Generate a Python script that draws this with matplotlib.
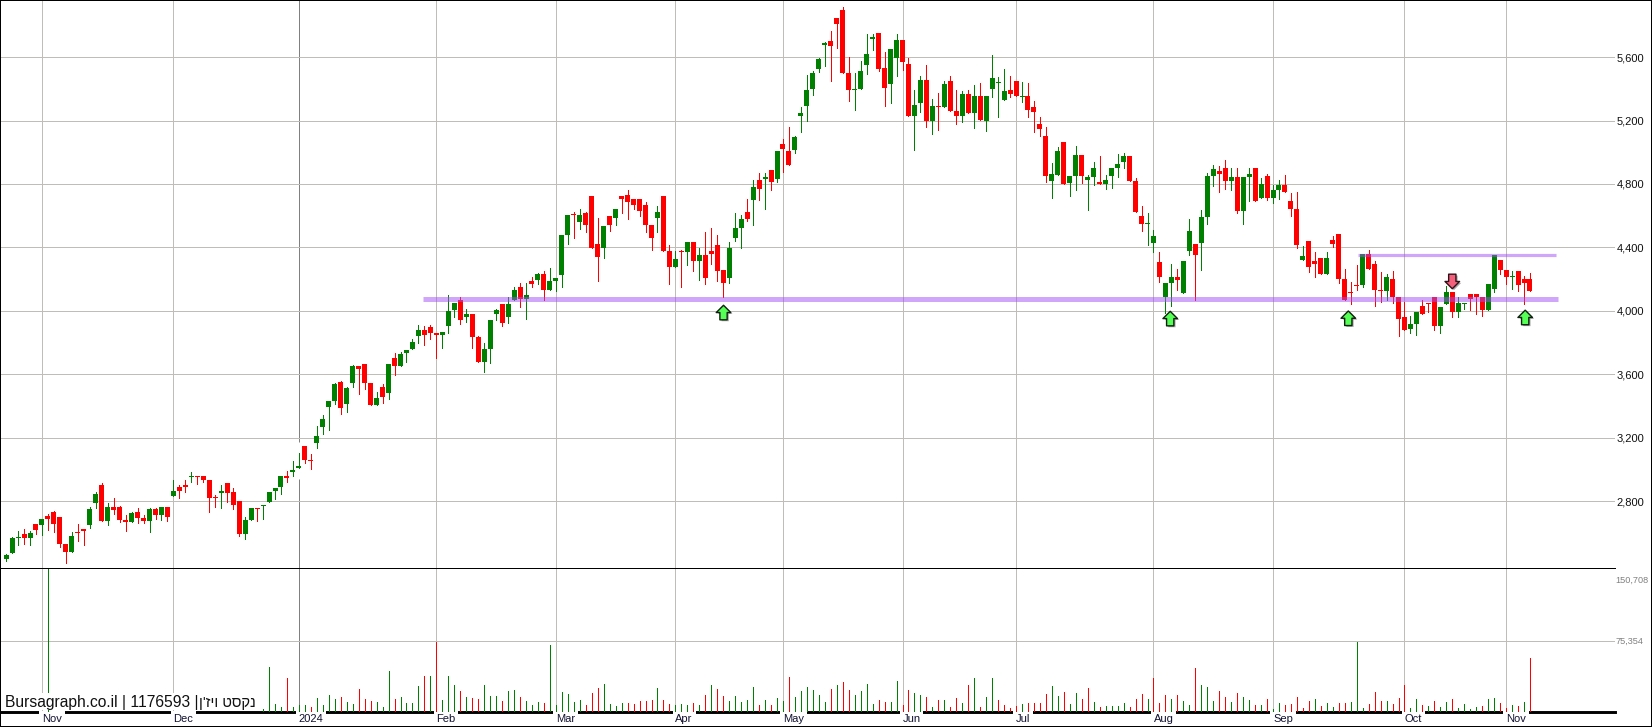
import matplotlib
matplotlib.use("Agg")
import matplotlib.pyplot as plt
import matplotlib.patheffects as pe
from matplotlib.path import Path
from matplotlib.patches import Rectangle

plt.rcParams['font.family'] = ['Liberation Sans', 'DejaVu Sans']

opens = [
2432,2470,2566,2595,2570,2658,2651,2708,2733,2701,
2532,2476,2607,2626,2651,2789,2902,2676,2764,2764,
2683,2670,2733,2695,2676,2752,2714,2764,2833,2889,
2902,2952,2958,2958,2934,2827,2852,2915,2858,2802,
2595,2683,2758,2770,2795,2864,2889,2958,2984,3009,
3147,3059,3165,3266,3395,3433,3552,3414,3546,3653,
3666,3546,3408,3521,3483,3704,3653,3731,3756,3838,
3882,3895,3857,3850,3901,4008,4065,3958,3977,3832,
3674,3756,3977,4040,3958,4065,4147,4077,4185,4197,
4235,4134,4191,4223,4475,4607,4563,4614,4727,4424,
4393,4595,4588,4721,4733,4702,4702,4670,4538,4588,
4721,4374,4279,4374,4368,4431,4311,4355,4374,4412,
4260,4204,4462,4525,4620,4696,4822,4834,4885,4828,
5054,5010,5016,5230,5293,5400,5526,5677,5703,5848,
5898,5501,5394,5400,5551,5715,5753,5533,5432,5596,
5709,5558,5230,5312,5457,5199,5293,5287,5451,5262,
5230,5369,5249,5356,5199,5400,5438,5331,5394,5451,
5350,5356,5287,5180,5104,4821,4859,5066,4808,4852,
4984,4827,4846,4814,4802,4852,4903,4940,4978,4821,
4600,4550,4430,4310,4084,4178,4210,4115,4380,4424,
4430,4594,4852,4884,4903,4821,4846,4632,4846,4903,
4714,4852,4714,4764,4796,4695,4644,4323,4443,4317,
4336,4235,4449,4487,4203,4121,4165,4165,4361,4298,
4134,4128,4203,4084,3958,3888,3914,4033,4046,4090,
3901,4040,4121,3995,4046,4103,4103,4084,4002,4140,
4323,4260,4216,4254,4203,4203]

highs = [
2466,2576,2614,2626,2614,2658,2689,2720,2739,2701,
2532,2607,2658,2626,2764,2858,2915,2789,2821,2770,
2714,2733,2758,2714,2758,2758,2764,2764,2934,2902,
2934,2984,2958,2958,2934,2839,2902,2915,2883,2802,
2701,2758,2758,2777,2858,2883,2958,2990,3053,3103,
3147,3096,3272,3341,3433,3546,3559,3521,3660,3653,
3666,3546,3489,3540,3666,3735,3741,3750,3825,3913,
3901,3913,3857,3869,4097,4052,4084,4014,3977,3844,
3794,3939,4014,4040,4084,4153,4178,4178,4216,4241,
4248,4273,4204,4475,4607,4620,4645,4620,4727,4588,
4532,4595,4645,4721,4759,4702,4702,4689,4538,4658,
4721,4412,4380,4386,4437,4431,4393,4494,4519,4475,
4260,4437,4614,4607,4702,4822,4872,4872,4885,5005,
5085,5161,5104,5287,5488,5514,5596,5696,5766,5848,
5917,5602,5501,5577,5747,5747,5753,5633,5652,5747,
5709,5596,5394,5482,5551,5337,5375,5451,5482,5394,
5388,5394,5425,5438,5356,5614,5476,5526,5482,5451,
5444,5438,5325,5224,5161,4934,5035,5066,4852,5041,
4984,4859,4940,4978,4859,4903,4991,4997,4978,4840,
4663,4619,4512,4373,4178,4298,4266,4317,4581,4424,
4638,4871,4922,4915,4953,4903,4903,4846,4903,4903,
4840,4865,4796,4827,4858,4745,4751,4411,4443,4373,
4336,4373,4474,4487,4266,4184,4291,4361,4386,4317,
4247,4235,4254,4084,4058,3970,3995,4071,4052,4090,
4021,4159,4121,4084,4052,4103,4109,4084,4172,4354,
4323,4260,4254,4254,4222,4241]

lows = [
2422,2470,2526,2532,2526,2595,2589,2620,2607,2513,
2407,2476,2551,2526,2632,2758,2676,2651,2720,2670,
2614,2670,2664,2664,2607,2689,2683,2676,2833,2821,
2858,2921,2908,2921,2733,2764,2758,2795,2752,2582,
2564,2683,2676,2689,2795,2814,2846,2921,2958,3009,
3040,3002,3134,3222,3250,3414,3351,3363,3521,3477,
3508,3408,3408,3420,3445,3597,3653,3674,3756,3800,
3787,3825,3705,3768,3863,3964,3914,3932,3768,3674,
3611,3668,3945,3907,3926,4065,4027,3951,4153,4172,
4071,4134,4122,4153,4424,4462,4513,4494,4399,4191,
4336,4506,4544,4614,4582,4639,4595,4494,4386,4494,
4380,4166,4279,4147,4286,4248,4197,4166,4298,4191,
4084,4178,4443,4399,4569,4544,4696,4645,4759,4815,
4877,4921,4997,5129,5199,5363,5507,5545,5451,5659,
5501,5325,5268,5400,5495,5646,5514,5293,5312,5482,
5520,5230,5016,5255,5161,5117,5142,5287,5262,5180,
5192,5249,5155,5205,5136,5350,5224,5331,5350,5356,
5318,5224,5129,5104,4814,4714,4859,4802,4726,4764,
4808,4638,4795,4802,4770,4777,4846,4903,4821,4625,
4506,4418,4373,4184,3983,4033,4134,4115,4355,4065,
4260,4550,4789,4751,4770,4764,4619,4550,4695,4695,
4714,4701,4682,4707,4751,4600,4399,4323,4247,4216,
4235,4235,4405,4178,4065,4040,4134,4147,4266,4033,
4058,4071,4052,3838,3876,3857,3850,3977,3995,3882,
3863,4040,3958,3958,4014,4002,3977,3970,4002,4121,
4229,4172,4140,4128,4046,4128]

closes = [
2457,2570,2572,2570,2601,2620,2689,2689,2658,2532,
2476,2582,2601,2614,2752,2846,2676,2764,2745,2683,
2670,2727,2695,2676,2752,2714,2764,2701,2864,2864,
2889,2958,2952,2934,2821,2821,2864,2852,2777,2595,
2683,2758,2752,2777,2858,2883,2958,2946,2996,3021,
3059,3053,3209,3316,3433,3540,3389,3515,3653,3634,
3546,3408,3452,3458,3666,3653,3729,3750,3806,3882,
3850,3857,3850,3869,3996,4052,3939,3977,3832,3674,
3756,3939,4002,3926,4046,4134,4077,4097,4172,4235,
4134,4191,4204,4475,4601,4601,4607,4538,4399,4342,
4532,4544,4645,4702,4683,4670,4632,4538,4462,4626,
4380,4279,4324,4368,4431,4311,4355,4204,4361,4248,
4178,4393,4525,4582,4582,4778,4771,4841,4815,5005,
5022,4921,5098,5249,5394,5501,5589,5690,5671,5810,
5501,5394,5400,5514,5621,5728,5526,5407,5652,5709,
5570,5230,5300,5457,5199,5293,5287,5432,5262,5230,
5369,5249,5356,5205,5356,5470,5444,5388,5369,5356,
5356,5268,5255,5148,4852,4865,5010,4802,4852,4984,
4852,4846,4903,4802,4827,4903,4928,4978,4821,4625,
4550,4556,4474,4210,4178,4210,4197,4317,4506,4355,
4594,4852,4896,4865,4821,4846,4632,4846,4865,4695,
4802,4714,4764,4796,4751,4644,4417,4348,4279,4298,
4235,4336,4424,4203,4065,4115,4159,4361,4266,4134,
4128,4210,4084,3951,3876,3914,3995,3977,4040,3901,
4021,4121,3995,4052,4052,4077,4084,4002,4172,4354,
4260,4216,4222,4165,4178,4128]

volumes = [
0,0,0,0,0,0,0,150708,0,0,
0,0,0,0,0,0,0,0,0,0,
0,0,0,0,0,0,0,0,0,0,
0,0,0,0,0,0,0,0,0,0,
0,0,0,2800,47200,8100,4900,35600,4900,7000,
7000,4900,14400,7000,17600,13400,15500,10200,8100,23900,
13400,11300,10200,4900,42900,13400,15500,9200,9200,27100,
37700,37700,73600,12300,37700,28200,21800,15500,14400,13400,
28200,16500,16500,11300,21800,22900,15500,11300,7000,10200,
9200,70400,7000,20800,18700,10200,12300,7000,19700,25000,
29200,8100,6000,9200,9200,8100,11300,11300,12300,25000,
12300,8100,7000,8100,7000,9200,7000,17600,28200,23900,
16500,11300,16500,10200,12300,26000,7000,12300,7000,14400,
11300,36600,15500,21800,26000,22900,17600,10200,23900,28200,
31300,22900,17600,21800,29200,8100,12300,10200,10200,32400,
7000,22900,19700,17600,15500,4900,12300,12300,4900,14400,
9200,28200,35600,4900,15500,35600,12300,7000,3900,6000,
8100,9200,9200,9200,18700,27100,16500,20800,8100,19700,
13400,25000,10200,4900,6000,6000,6000,9200,4900,13400,
18700,13400,35600,9200,17600,13400,17600,11300,7000,46100,
28200,26000,11300,21800,15500,10200,19700,15500,12300,7000,
7000,13400,2800,9200,7000,8100,15500,3900,11300,13400,
6000,9200,4900,9200,9200,10200,73600,3900,8100,20800,
11300,11300,8100,14400,28200,3900,13400,7000,6000,11300,
4900,10200,13400,3900,8100,2800,4900,6000,13400,14400,
9200,3900,7000,6000,10200,56700]

price_ticks = [2800, 3200, 3600, 4000, 4400, 4800, 5200, 5600]
price_labels = ['2,800', '3,200', '3,600', '4,000', '4,400', '4,800', '5,200', '5,600']
month_idx = [6, 28, 49, 72, 92, 112, 130, 150, 169, 192, 212, 234, 251]
month_labels = ['Nov', 'Dec', '2024', 'Feb', 'Mar', 'Apr', 'May', 'Jun', 'Jul', 'Aug', 'Sep', 'Oct', 'Nov']
vol_mid = 75354
vol_max = 150708

support_price = 4076
support_span = (69.7, 259.7)
resist_price = 4353
resist_span = (226.2, 259.3)

up_x = [120.05, 194.8, 224.6, 254.2]
up_price = [3989, 3951, 3953, 3958]
down_x = [242.0]
down_price = [4185]

title_latin = "Bursagraph.co.il | 1176593 |"
title_hebrew_visual = "ן'זיו טסקנ"   # visual order: matplotlib has no bidi

W, H = 1652, 727
PX_STEP = 5.976
X0 = 6.1
Y4000 = 310.8
RIGHT = 1615
DIV = 567.5
BASE = 712
GREEN, RED = '#008000', '#FF0000'
GRID = '#C0BDB7'
PX = 0.72  # 1 pixel in points

fig = plt.figure(figsize=(W / 100, H / 100), dpi=100, facecolor='white')
axv = fig.add_axes([0, 1 - BASE / H, RIGHT / W, (BASE - DIV) / H])
ax = fig.add_axes([0, 1 - DIV / H, RIGHT / W, DIV / H])
axv.patch.set_visible(False)
ax.patch.set_visible(False)

xlim = (-X0 / PX_STEP, (RIGHT - X0) / PX_STEP)
n = len(closes)
xs = list(range(n))

# ---- main panel
ax.set_xlim(*xlim)
ax.set_ylim(4000 - (DIV - Y4000) * 6.306, 4000 + Y4000 * 6.306)
ax.set_axisbelow(True)
ax.yaxis.tick_right()
ax.set_yticks(price_ticks, price_labels)
ax.set_xticks(month_idx)
ax.tick_params(axis='x', length=0, labelbottom=False)
ax.tick_params(axis='y', length=0, pad=1.2, labelsize=8, labelcolor='#101010')
ax.grid(True, color=GRID, lw=PX, antialiased=False)
ax.get_xgridlines()[2].set_color('#808080')
for s in ('top', 'left', 'right'):
    ax.spines[s].set_visible(False)
ax.spines['bottom'].set_linewidth(PX)
ax.vlines(49, 2940, 3170, color='white', lw=1.0, zorder=0.7)

colors = [GREEN if c >= o else RED for o, c in zip(opens, closes)]
ax.vlines(xs, lows, highs, colors=colors, lw=PX, antialiased=False, zorder=2)
bottoms = [min(o, c) for o, c in zip(opens, closes)]
heights = [max(abs(o - c), 6.3) for o, c in zip(opens, closes)]
ax.bar(xs, heights, bottom=bottoms, width=5 / PX_STEP, color=colors, linewidth=0,
       antialiased=False, zorder=2.1)

purple = (0.63, 0.31, 0.96, 0.5)
ax.plot(support_span, [support_price] * 2, color=purple, lw=3.6, solid_capstyle='butt', zorder=3)
ax.plot(resist_span, [resist_price] * 2, color=purple, lw=2.3, solid_capstyle='butt', zorder=3)

up_path = Path([(0, 1), (1, 0), (0.5, 0), (0.5, -1), (-0.5, -1), (-0.5, 0), (-1, 0), (0, 1)], closed=True)
down_path = Path([(0, -1), (1, 0), (0.5, 0), (0.5, 1), (-0.5, 1), (-0.5, 0), (-1, 0), (0, -1)], closed=True)
shadow = [pe.SimplePatchShadow(offset=(1.2, -1.0), shadow_rgbFace='#808080', alpha=0.7), pe.Normal()]
ax.scatter(up_x, up_price, marker=up_path, s=110, facecolor='#55FF55', edgecolor='#102010',
           linewidth=1.0, zorder=4, path_effects=shadow)
ax.scatter(down_x, down_price, marker=down_path, s=110, facecolor='#F4607C', edgecolor='#301018',
           linewidth=1.0, zorder=4, path_effects=shadow)

# ---- volume panel
axv.set_xlim(*xlim)
axv.set_ylim(0, (BASE - DIV) * 1055)
axv.set_axisbelow(True)
axv.yaxis.tick_right()
axv.set_yticks([vol_mid], ['75,354'])
axv.tick_params(axis='y', length=0, pad=0.6, labelsize=6.6, labelcolor='#808080')
axv.set_xticks(month_idx, month_labels)
axv.tick_params(axis='x', length=0, pad=1.5, labelsize=8, labelcolor='#101030')
for lbl in axv.get_xticklabels():
    lbl.set_ha('left')
    lbl.set_bbox(dict(facecolor='white', edgecolor='none', pad=2.0))
axv.grid(True, color=GRID, lw=PX, antialiased=False)
axv.get_xgridlines()[2].set_color('#808080')
for s in ('top', 'left', 'right'):
    axv.spines[s].set_visible(False)
axv.spines['bottom'].set_linewidth(2.1)
axv.spines['bottom'].set_zorder(0.4)
axv.annotate('150,708', (1, vol_max), xycoords=axv.get_yaxis_transform(), xytext=(0.6, -5),
             textcoords='offset points', va='top', ha='left', fontsize=6.6, color='#808080',
             annotation_clip=False)

vcolors = [GREEN] + [GREEN if closes[i] >= closes[i - 1] else RED for i in range(1, n)]
axv.vlines(xs, 0, volumes, colors=vcolors, lw=PX, antialiased=False, zorder=2)

# ---- caption box and frame
fig.add_artist(Rectangle((3 / W, 1 - 710.4 / H), 253 / W, 17.4 / H, transform=fig.transFigure,
                         facecolor='white', edgecolor='none', zorder=4))
fig.text(5 / W, 1 - 707.5 / H, title_latin, fontsize=11.25, color='#101010',
         va='baseline', ha='left', zorder=5)
fig.text(256 / W, 1 - 707.5 / H, title_hebrew_visual, fontsize=10.6, color='#101010',
         va='baseline', ha='right', zorder=5)
fig.add_artist(Rectangle((0, 0), 1, 1, transform=fig.transFigure, fill=False,
                         edgecolor='black', linewidth=1.44, zorder=6))

fig.savefig('out.png', dpi=100, facecolor='white')
